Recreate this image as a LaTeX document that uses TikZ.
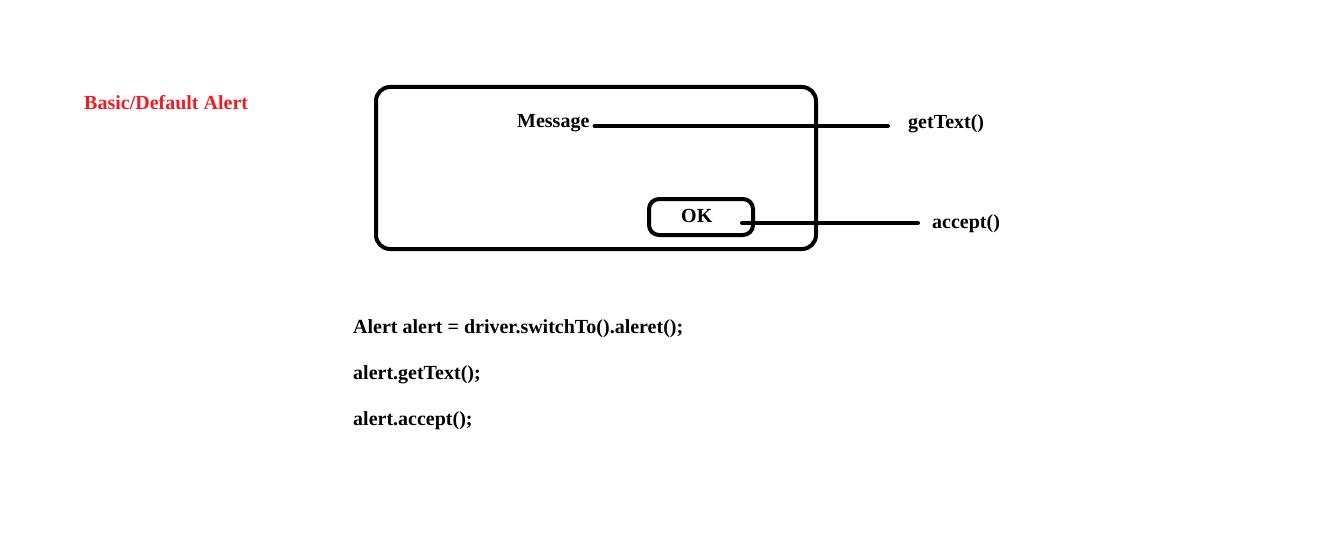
\documentclass[tikz,border=0pt]{standalone}
\usepackage{fontspec}
\setmainfont{Liberation Serif}
\definecolor{alertred}{HTML}{ED1C24}
\begin{document}
\begin{tikzpicture}[x=1pt,y=-1pt,
  lbl/.style={font=\fontsize{20}{22}\selectfont\bfseries, inner sep=0pt, anchor=base west},
  frame/.style={draw, line width=4pt, rounded corners=14pt, inner sep=0pt, anchor=north west},
  button/.style={draw, line width=4pt, rounded corners=10pt, inner sep=0pt},
  wire/.style={line width=4pt, line cap=round}]
\useasboundingbox (0,0) rectangle (1340,540);

% heading
\node[lbl, text=alertred] (title) at (84,110) {Basic/Default Alert};

% alert dialog with its message and OK button
\node[frame, minimum width=440pt, minimum height=162pt] (dialog) at (374,85) {};
\node[lbl] (msg) at (517,128) {Message};
\node[button, minimum width=104pt, minimum height=36pt] (okbtn) at (701,217) {};
\node[lbl] (ok) at (681,222) {OK};

% method labels
\node[lbl] (gt) at (908,129) {getText()};
\node[lbl] (acc) at (932,228) {accept()};

% leader lines
\draw[wire] ([xshift=5pt,yshift=2pt]msg.base east) -- ([xshift=-20pt,yshift=3pt]gt.base west);
\draw[wire] ([xshift=-13pt,yshift=-6pt]okbtn.east) -- ([xshift=-14pt,yshift=5pt]acc.base west);

% code sample
\node[lbl] (code1) at (353,333) {Alert alert = driver.switchTo().aleret();};
\node[lbl] (code2) at (353,379) {alert.getText();};
\node[lbl] (code3) at (353,425) {alert.accept();};
\end{tikzpicture}
\end{document}
